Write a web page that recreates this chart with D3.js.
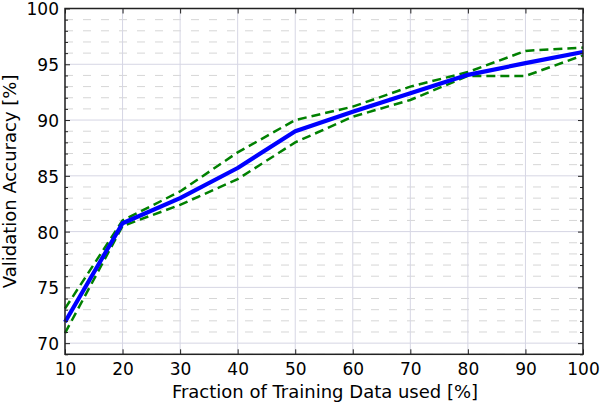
<!DOCTYPE html>
<html><head><meta charset="utf-8">
<script src="https://cdn.jsdelivr.net/npm/d3@7"></script>
<style>body{margin:0;background:#fff}svg{display:block}text{font-family:"DejaVu Sans",sans-serif}</style>
</head><body><svg id="c" width="600" height="404"></svg>
<script>
const fractions = [10,20,30,40,50,60,70,80,90,100];
const meanAcc  = [71.9,80.75,83.0,85.7,89.0,90.75,92.4,94.05,95.1,96.1];
const upperAcc = [73.1,81.0,83.6,87.1,90.0,91.2,93.0,94.3,96.2,96.5];
const lowerAcc = [70.9,80.5,82.4,84.7,88.0,90.3,91.8,93.95,93.95,95.8];
const xTicks = [10,20,30,40,50,60,70,80,90,100];
const yTicks = [70,75,80,85,90,95,100];
const yMinor = d3.range(69,101,1);

const svg = d3.select("#c");
const L=65,R=583,T=8.5,B=354.3;
const x = d3.scaleLinear().domain([10,100]).range([L,R]);
const y = d3.scaleLinear().domain([69,100]).range([B,T]);

// minor grid (horizontal dashed)
svg.append("g").selectAll("line").data(yMinor.filter(v=>v%5!==0)).join("line")
  .attr("x1",L).attr("x2",R).attr("y1",d=>y(d)).attr("y2",d=>y(d))
  .attr("stroke","#d6d6d6").attr("stroke-width",1).attr("stroke-dasharray","8,10");
// major grid
svg.append("g").selectAll("line").data(yTicks).join("line")
  .attr("x1",L).attr("x2",R).attr("y1",d=>y(d)).attr("y2",d=>y(d))
  .attr("stroke","#d6d6e4").attr("stroke-width",1);
svg.append("g").selectAll("line").data(xTicks).join("line")
  .attr("y1",T).attr("y2",B).attr("x1",d=>x(d)).attr("x2",d=>x(d))
  .attr("stroke","#d6d6e4").attr("stroke-width",1);

const line = d3.line().x((d,i)=>x(fractions[i])).y(d=>y(d));
[upperAcc,lowerAcc].forEach(s=>{
  svg.append("path").attr("d",line(s)).attr("fill","none")
    .attr("stroke","#008000").attr("stroke-width",2.5).attr("stroke-dasharray","9,5");
});
svg.append("path").attr("d",line(meanAcc)).attr("fill","none")
  .attr("stroke","#0000ff").attr("stroke-width",4.2).attr("stroke-linejoin","round");

// axes
const fs = 17;
svg.append("g").attr("transform",`translate(0,${B})`)
  .call(d3.axisBottom(x).tickValues(xTicks).tickSizeInner(-5).tickSizeOuter(0).tickPadding(9));
svg.append("g").attr("transform",`translate(0,${T})`)
  .call(d3.axisTop(x).tickValues(xTicks).tickSizeInner(-5).tickSizeOuter(0).tickFormat(""));
const yAxisL = svg.append("g").attr("transform",`translate(${L},0)`)
  .call(d3.axisLeft(y).tickValues(yTicks).tickSizeInner(-5).tickSizeOuter(0).tickPadding(6));
yAxisL.selectAll(".tick text").attr("dy","0.38em");
svg.append("g").attr("transform",`translate(${R},0)`)
  .call(d3.axisRight(y).tickValues(yTicks).tickSizeInner(-5).tickSizeOuter(0).tickFormat(""));
svg.append("g").attr("transform",`translate(${L},0)`)
  .call(d3.axisLeft(y).tickValues(yMinor.filter(v=>v%5!==0)).tickSizeInner(-3).tickSizeOuter(0).tickFormat(""));
svg.append("g").attr("transform",`translate(${R},0)`)
  .call(d3.axisRight(y).tickValues(yMinor.filter(v=>v%5!==0)).tickSizeInner(-3).tickSizeOuter(0).tickFormat(""));
svg.selectAll(".domain").remove();
svg.selectAll(".tick line").attr("stroke","#222").attr("stroke-width",1);
svg.selectAll(".tick text").attr("font-size",fs).attr("fill","#000").attr("font-family","DejaVu Sans");

svg.append("rect").attr("x",L).attr("y",T).attr("width",R-L).attr("height",B-T)
  .attr("fill","none").attr("stroke","#222").attr("stroke-width",1.5);

svg.append("text").attr("x",(L+R)/2 + 1).attr("y",398).attr("text-anchor","middle")
  .attr("font-size",18).text("Fraction of Training Data used [%]");
svg.append("text").attr("transform",`translate(15.5,${(T+B)/2}) rotate(-90)`).attr("text-anchor","middle")
  .attr("font-size",18).text("Validation Accuracy [%]");
</script></body></html>
